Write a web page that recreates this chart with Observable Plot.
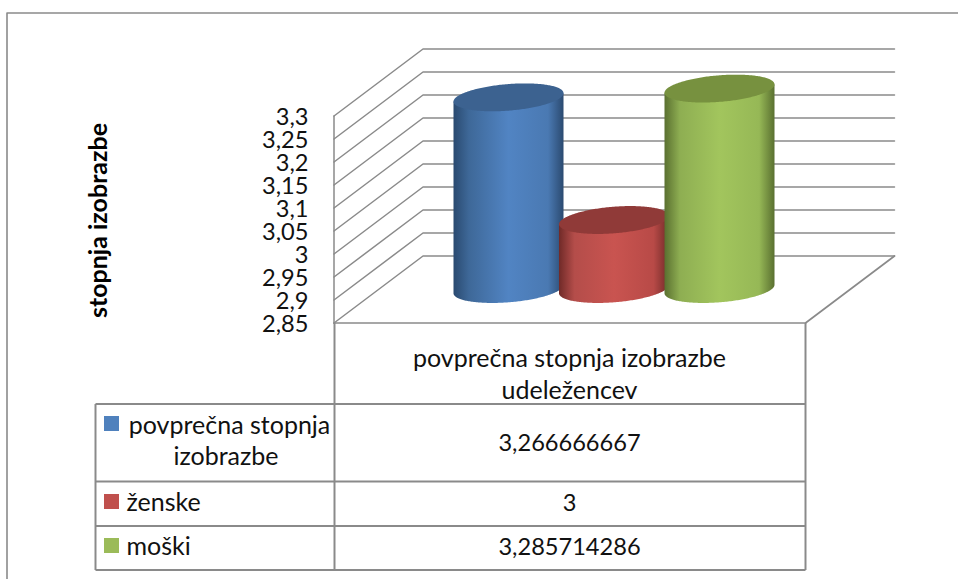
<!DOCTYPE html>
<html>
<head>
<meta charset="utf-8">
<style>
  html, body { margin: 0; padding: 0; background: #fff; }
  svg { display: block; }
</style>
<script src="https://cdn.jsdelivr.net/npm/d3@7"></script>
<script src="https://cdn.jsdelivr.net/npm/@observablehq/plot@0.6"></script>
</head>
<body>
<div id="chart"></div>
<script>
// Values
const seriesNames = ["povprečna stopnja izobrazbe", "ženske", "moški"];
const seriesValues = [3.266666667, 3, 3.285714286];
const valueTicks = [2.85, 2.9, 2.95, 3, 3.05, 3.1, 3.15, 3.2, 3.25, 3.3];
const categoryLines = ["povprečna stopnja izobrazbe", "udeležencev"];
const axisTitle = "stopnja izobrazbe";

// Cylinder shading: edge, shoulder, highlight, shoulder, edge, plus the cap colour
const shades = [
  {id: "shade-blue", cap: "#3c6290", key: "#4f81bd", stops: ["#2a4a70", "#3e6898", "#5184c3", "#4a79b2", "#2b4a70"]},
  {id: "shade-red", cap: "#903a38", key: "#c0504d", stops: ["#702a28", "#b44d4a", "#c95450", "#b84a47", "#702a28"]},
  {id: "shade-green", cap: "#77913f", key: "#9bbb59", stops: ["#5a7030", "#8eae52", "#a2c55d", "#96b856", "#5a7030"]}
];

const width = 958;
const height = 579;
const ink = "#8a8a8a";
const font = "Lato, 'Noto Sans', sans-serif";
const labelSize = 25;
const numberSize = 23.6;

// Horizontal layout in pixels; vertical position comes from the value scale
const plane = {left: 333.5, right: 805, bottom: 322.5, top: 115.5};
const depth = {x: 89, y: 67};
const barDepth = 0.5;
const bar = {first: 464, step: 105.5, r: 55, tilt: 4.2, minor: 13.3};

const yScale = d3.scaleLinear().domain([2.85, 3.3]).range([plane.bottom, plane.top]);
const V = (py) => yScale.invert(py);
const px = (v) => yScale(v);

// Rear-wall lift expressed in value units
const lift = V(plane.bottom - depth.y) - V(plane.bottom);

// Grid: side wall diagonals and back wall lines, one polyline per tick
const gridRows = valueTicks.flatMap((v) => [
  {tick: v, x: plane.left, y: v},
  {tick: v, x: plane.left + depth.x, y: v + lift},
  {tick: v, x: plane.right + depth.x, y: v + lift}
]);

// Outline of a sheared ellipse as upper and lower boundary over x
function ellipseRows(i, v) {
  const cx = bar.first + bar.step * i + barDepth * depth.x;
  const cy = px(v) - barDepth * depth.y;
  return d3.range(0, 121).map((k) => {
    const c = Math.cos(Math.PI * (1 - k / 120));
    const s = Math.sqrt(Math.max(0, 1 - c * c));
    return {
      x: cx + bar.r * c,
      mid: cy - bar.tilt * c,
      up: cy - bar.tilt * c - bar.minor * s,
      down: cy - bar.tilt * c + bar.minor * s
    };
  });
}

function cylinderMarks(value, i) {
  const shade = shades[i];
  const top = ellipseRows(i, value);
  const base = ellipseRows(i, valueTicks[0]);
  const body = top.map((d, k) => ({x: d.x, y1: V(base[k].down), y2: V(d.mid)}));
  const cap = top.map((d) => ({x: d.x, y1: V(d.down), y2: V(d.up)}));
  return [
    Plot.areaY(body, {x: "x", y1: "y1", y2: "y2", fill: `url(#${shade.id})`}),
    Plot.areaY(cap, {x: "x", y1: "y1", y2: "y2", fill: shade.cap})
  ];
}

const fmt = (v) => String(v).replace(".", ",");

// Data table under the plot
const table = {left: 95, mid: 334, right: 805, rows: [403.5, 481, 525.5, 569.5]};
const tableLines = [
  ...table.rows.map((r) => ({x1: table.left, x2: table.right, y1: V(r), y2: V(r)})),
  {x1: table.left, x2: table.left, y1: V(403.5), y2: V(569.5)},
  {x1: table.mid, x2: table.mid, y1: V(plane.bottom), y2: V(569.5)},
  {x1: table.right, x2: table.right, y1: V(plane.bottom), y2: V(569.5)}
];
const keyRows = [416, 494, 538].map((t, i) => ({x1: 104, x2: 119, y1: V(t), y2: V(t + 15), fill: shades[i].key}));
const firstNameLines = [
  {text: "povprečna stopnja", x: 229, y: 425},
  {text: "izobrazbe", x: 225.5, y: 456}
];
const shortNames = [
  {text: seriesNames[1], y: 502},
  {text: seriesNames[2], y: 546}
];
const valueRows = seriesValues.map((v, i) => ({text: fmt(v), y: [443, 503, 547][i]}));

function gradients() {
  const svg = d3.create("svg:defs");
  for (const s of shades) {
    const g = svg.append("linearGradient").attr("id", s.id);
    s.stops.forEach((c, i) => {
      g.append("stop").attr("offset", [0, 0.14, 0.5, 0.86, 1][i]).attr("stop-color", c);
    });
  }
  return svg.node();
}

const chart = Plot.plot({
  width,
  height,
  margin: 0,
  style: {background: "#fff", fontFamily: font},
  x: {domain: [0, width], range: [0, width], axis: null},
  y: {domain: [V(height), V(0)], range: [height, 0], axis: null},
  marks: [
    gradients,
    // outer frame
    Plot.line([{x: 6.5, y: V(height)}, {x: 6.5, y: V(12.5)}, {x: 958, y: V(12.5)}],
      {x: "x", y: "y", stroke: ink, strokeWidth: 1.6}),
    // walls and floor
    Plot.line(gridRows, {x: "x", y: "y", z: "tick", stroke: ink, strokeWidth: 1.5}),
    Plot.line([2.85, 3.3].map((v) => ({x: plane.left, y: v})), {x: "x", y: "y", stroke: ink, strokeWidth: 1.5}),
    Plot.line([
      {x: plane.left, y: 2.85},
      {x: plane.right, y: 2.85},
      {x: plane.right + depth.x, y: 2.85 + lift}
    ], {x: "x", y: "y", stroke: ink, strokeWidth: 1.7}),
    // cylinders, later ones over earlier ones
    ...seriesValues.flatMap(cylinderMarks),
    // value axis
    Plot.text(valueTicks, {
      x: () => 308, y: (d) => d, dy: 1.5, text: fmt, textAnchor: "end", fontSize: numberSize, fill: "#111"
    }),
    Plot.text([axisTitle], {
      x: () => 98, y: () => V(220), text: (d) => d, rotate: -90, fontSize: 25, fontWeight: "bold", fill: "#000"
    }),
    // table
    Plot.link(tableLines, {x1: "x1", x2: "x2", y1: "y1", y2: "y2", stroke: ink, strokeWidth: 2}),
    Plot.rect(keyRows, {x1: "x1", x2: "x2", y1: "y1", y2: "y2", fill: "fill"}),
    Plot.text(categoryLines, {
      x: () => 569, y: (d, i) => V(358 + i * 32), text: (d) => d, fontSize: labelSize, fill: "#111"
    }),
    Plot.text(firstNameLines, {
      x: "x", y: (d) => V(d.y), text: "text", fontSize: labelSize, fill: "#111"
    }),
    Plot.text(shortNames, {
      x: () => 126, y: (d) => V(d.y), text: "text", textAnchor: "start", fontSize: labelSize, fill: "#111"
    }),
    Plot.text(valueRows, {
      x: () => 569, y: (d) => V(d.y), text: "text", fontSize: numberSize, fill: "#111"
    })
  ]
});

document.getElementById("chart").appendChild(chart);
</script>
</body>
</html>
